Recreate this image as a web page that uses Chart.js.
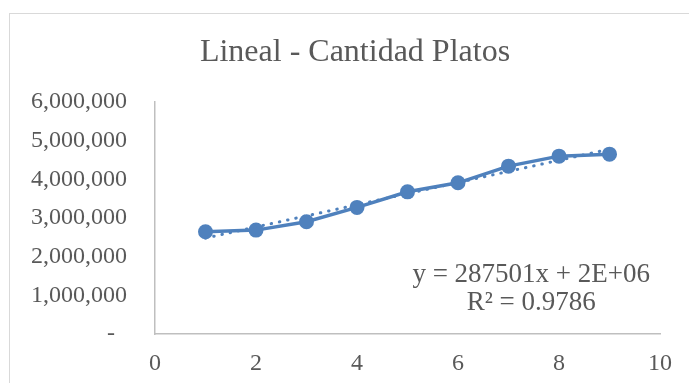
<!DOCTYPE html>
<html>
<head>
<meta charset="utf-8">
<script src="https://cdn.jsdelivr.net/npm/chart.js@4"></script>
<style>
  html, body { margin: 0; padding: 0; background: #ffffff; overflow: hidden; }
  #wrap { position: relative; width: 689px; height: 383px; }
  #frame { position: absolute; left: 9px; top: 13px; width: 700px; height: 400px; border: 1px solid #d9d9d9; box-sizing: border-box; }
  canvas { position: absolute; left: 0; top: 0; }
</style>
</head>
<body>
<div id="wrap">
  <div id="frame"></div>
  <canvas id="c" width="689" height="383"></canvas>
</div>
<script>
// ---- data ----
const titleText = "Lineal - Cantidad Platos";
const periods = [1, 2, 3, 4, 5, 6, 7, 8, 9];
const platos = [2643000, 2687000, 2902000, 3274000, 3677000, 3910000, 4341000, 4600000, 4651000];
const trendX = [1, 9];
const trendY = [2480000, 4780000];
const equationLines = ["y = 287501x + 2E+06", "R² = 0.9786"];
const equationAnchor = [7.45, 1540000, 800000]; // x value, y value of line 1, y value of line 2
const xTicks = [0, 2, 4, 6, 8, 10];
const yTicks = [0, 1000000, 2000000, 3000000, 4000000, 5000000, 6000000];

const blue = '#4f81bd';
const textGray = '#595959';
const serif = '"Liberation Serif", "Times New Roman", serif';

const titlePlugin = {
  id: 'chartTitle',
  afterDraw(chart) {
    const ctx = chart.ctx;
    ctx.save();
    ctx.font = '32px ' + serif;
    ctx.fillStyle = textGray;
    ctx.textAlign = 'center';
    ctx.textBaseline = 'middle';
    ctx.fillText(titleText, chart.width / 2 + 10.5, 52.5);
    ctx.restore();
  }
};

const equationPlugin = {
  id: 'equationLabel',
  afterDatasetsDraw(chart) {
    const {ctx, scales} = chart;
    const x = scales.x.getPixelForValue(equationAnchor[0]);
    ctx.save();
    ctx.font = '27px ' + serif;
    ctx.fillStyle = textGray;
    ctx.textAlign = 'center';
    ctx.textBaseline = 'middle';
    ctx.fillText(equationLines[0], x, scales.y.getPixelForValue(equationAnchor[1]));
    ctx.fillText(equationLines[1], x, scales.y.getPixelForValue(equationAnchor[2]));
    ctx.restore();
  }
};

new Chart(document.getElementById('c'), {
  type: 'scatter',
  data: {
    datasets: [
      {
        label: 'Lineal (Cantidad Platos)',
        data: trendX.map((x, i) => ({x: x, y: trendY[i]})),
        showLine: true,
        borderColor: blue,
        borderWidth: 3,
        borderDash: [0.5, 7.9],
        borderCapStyle: 'round',
        pointRadius: 0,
        fill: false
      },
      {
        label: 'Cantidad Platos',
        data: periods.map((x, i) => ({x: x, y: platos[i]})),
        showLine: true,
        borderColor: blue,
        backgroundColor: blue,
        borderWidth: 3.5,
        pointRadius: 7.5,
        pointBorderWidth: 0,
        pointBackgroundColor: blue,
        tension: 0,
        fill: false
      }
    ]
  },
  options: {
    responsive: false,
    animation: false,
    devicePixelRatio: 1,
    layout: { padding: { left: 0, right: 29, top: 102, bottom: 0 } },
    plugins: {
      legend: { display: false },
      tooltip: { enabled: false },
      title: { display: false }
    },
    scales: {
      x: {
        type: 'linear',
        min: 0,
        max: 10,
        afterBuildTicks(scale) { scale.ticks = xTicks.map(v => ({value: v})); },
        afterFit(scale) { scale.height = 49; },
        grid: { display: false, drawTicks: false },
        border: { display: true, color: '#bfbfbf', width: 1.5 },
        ticks: {
          color: textGray,
          padding: 15,
          font: { family: serif, size: 24 }
        }
      },
      y: {
        type: 'linear',
        min: 0,
        max: 6000000,
        afterBuildTicks(scale) { scale.ticks = yTicks.map(v => ({value: v})); },
        afterFit(scale) { scale.width = 155; },
        grid: { display: false, drawTicks: false },
        border: { display: true, color: '#bfbfbf', width: 1.5 },
        ticks: {
          color: textGray,
          padding: 28,
          font: { family: serif, size: 24 },
          callback(v) { return v === 0 ? '-  ' : v.toLocaleString('en-US'); }
        }
      }
    }
  },
  plugins: [titlePlugin, equationPlugin]
});
</script>
</body>
</html>
